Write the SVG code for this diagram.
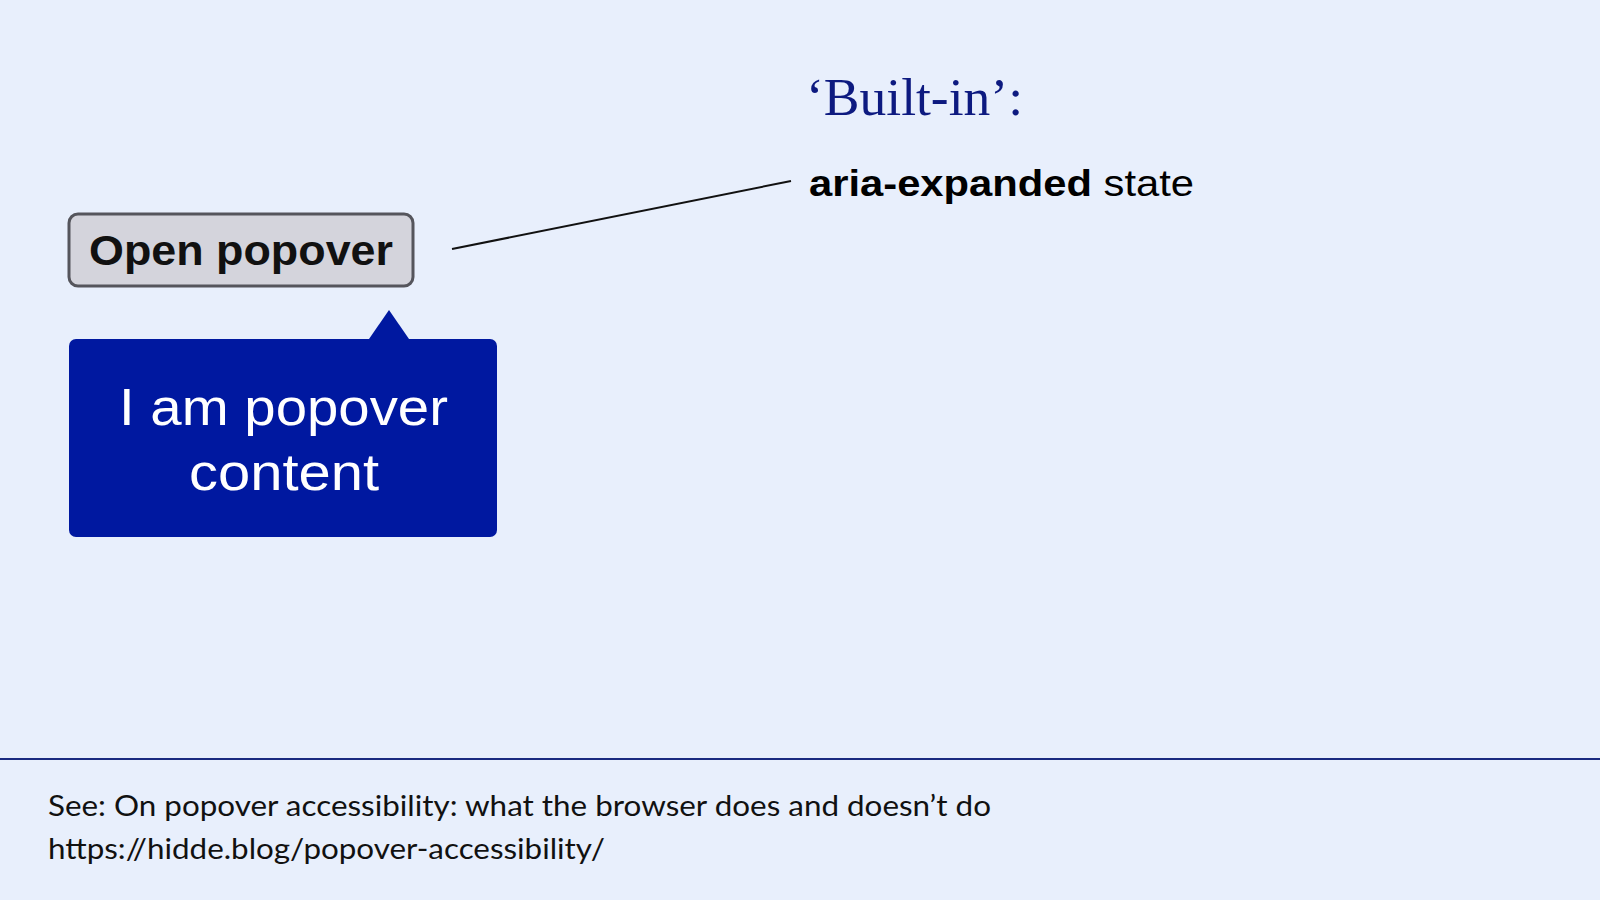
<svg xmlns="http://www.w3.org/2000/svg" width="1600" height="900" viewBox="0 0 1600 900">
<style>
.sans{font-family:"Liberation Sans",Arial,sans-serif}
.foot{font-family:"Lato","Liberation Sans",sans-serif;font-size:28px;fill:#111}
</style>
<rect width="1600" height="900" fill="#e8effc"/>
<g id="title"><text x="806" y="115" font-family="Liberation Serif,serif" font-size="52" fill="#0d1a80" textLength="217" lengthAdjust="spacingAndGlyphs">‘Built-in’:</text></g>
<g id="label"><text x="809" y="196" class="sans" font-size="37" fill="#000" textLength="385" lengthAdjust="spacingAndGlyphs"><tspan font-weight="bold">aria-expanded</tspan> state</text></g>
<g id="button">
<rect x="69" y="214" width="344" height="72" rx="9" fill="#d4d4dc" stroke="#55555c" stroke-width="3"/>
<text x="89" y="265" class="sans" font-size="42" font-weight="bold" fill="#111" textLength="304" lengthAdjust="spacingAndGlyphs">Open popover</text>
</g>
<g id="popover">
<path d="M369 339 L389 310 L409 339 Z" fill="#0018a0"/>
<rect x="69" y="339" width="428" height="198" rx="7" fill="#0018a0"/>
<text x="119" y="425" class="sans" font-size="52" fill="#fff" textLength="329" lengthAdjust="spacingAndGlyphs">I am popover</text>
<text x="189" y="490" class="sans" font-size="52" fill="#fff" textLength="190" lengthAdjust="spacingAndGlyphs">content</text>
</g>
<g id="connectors">
<line x1="452" y1="249" x2="791" y2="181" stroke="#111" stroke-width="2"/>
<line x1="0" y1="759" x2="1600" y2="759" stroke="#1a2a80" stroke-width="2"/>
</g>
<g id="footer">
<text x="48" y="816" class="foot" textLength="943" lengthAdjust="spacingAndGlyphs">See: On popover accessibility: what the browser does and doesn’t do</text>
<text x="48" y="859" class="foot" textLength="557" lengthAdjust="spacingAndGlyphs">https://hidde.blog/popover-accessibility/</text>
</g>
</svg>
